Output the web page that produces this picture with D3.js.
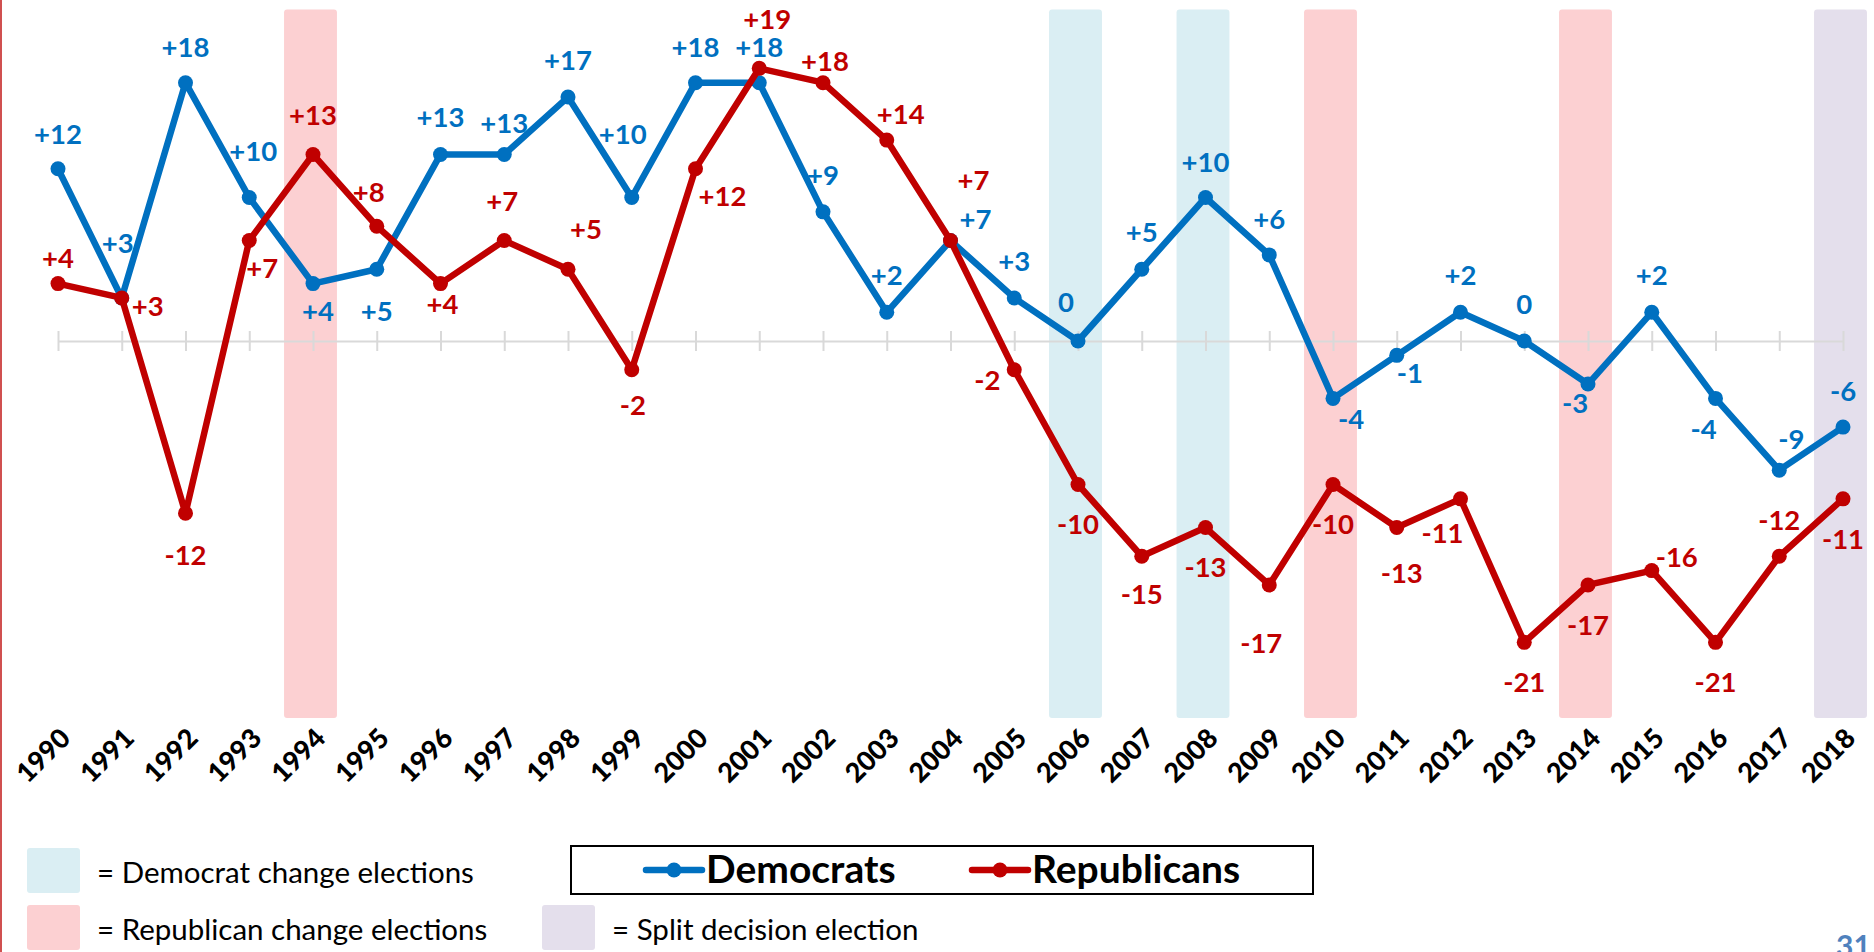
<!DOCTYPE html>
<head>
<meta charset="utf-8">
<script src="https://d3js.org/d3.v7.min.js"></script>
</head>
<style>
  body { margin: 0; background: #fff; overflow: hidden; }
  text { font-family: Lato, "Open Sans", sans-serif; }
</style>
<body>
<svg id="chart" width="1874" height="952"></svg>
<script>
// data
const years = d3.range(1990, 2019);
const democrats   = [12, 3, 18, 10, 4, 5, 13, 13, 17, 10, 18, 18, 9, 2, 7, 3, 0, 5, 10, 6, -4, -1, 2, 0, -3, 2, -4, -9, -6];
const republicans = [4, 3, -12, 7, 13, 8, 4, 7, 5, -2, 12, 19, 18, 14, 7, -2, -10, -15, -13, -17, -10, -13, -11, -21, -17, -16, -21, -15, -11];
// the source chart labels the 2017 Republican point "-12" although it sits at -15
const repLabelOverride = {2017: "-12"};
const demChangeYears = [2006, 2008];
const repChangeYears = [1994, 2010, 2014];
const splitYears = [2018];

// label nudges [dx, dy] from each point (layout only)
const demNudge = [[0,-35],[-4,-55],[0,-36],[4,-46],[5,27],[0,42],[0,-37],[0,-31],[0,-37],[-9,-63],
  [0,-36],[0,-36],[0,-37],[0,-37],[25,-21],[0,-37],[-12,-39],[0,-37],[0,-35],[0,-36],
  [18,21],[13,18],[0,-37],[0,-37],[-13,19],[0,-37],[-12,31],[12,-31],[0,-36]];
const repNudge = [[0,-26],[26,8],[0,42],[13,28],[0,-39],[-8,-34],[2,20],[-2,-39],[18,-40],[1,35],
  [27,27],[8,-49],[2,-22],[14,-26],[23,-60],[-27,10],[0,40],[0,38],[0,40],[-8,58],
  [0,40],[5,46],[-18,34],[0,40],[0,40],[25,-14],[0,40],[0,-36],[0,40]];

const svg = d3.select("#chart");
const blue = "#0070C0", red = "#C00000";

const x = d3.scaleLinear().domain([1990, 2018]).range([58, 1843]);
const y = d3.scaleLinear().domain([-21, 19]).range([341 + 21 * 14.35, 341 - 19 * 14.35]);
const step = x(1991) - x(1990);

// left edge rule
svg.append("line").attr("x1", 1).attr("x2", 1).attr("y1", 0).attr("y2", 952)
  .attr("stroke", "#D05050").attr("stroke-width", 2);

// highlight bands
function bands(list, color) {
  svg.append("g").selectAll("rect").data(list).join("rect")
    .attr("x", d => x(d) - 2.5 - step * 0.415)
    .attr("width", step * 0.83)
    .attr("y", 9.5).attr("height", 708.5)
    .attr("rx", 3)
    .attr("fill", color);
}
bands(demChangeYears, "#DAEEF3");
bands(repChangeYears, "#FCD0D2");
bands(splitYears, "#E4DFEC");

// zero axis with ticks
const axis = svg.append("g").attr("transform", `translate(0,${y(0)})`)
  .call(d3.axisBottom(x).tickValues(years).tickSize(10).tickFormat("").tickSizeOuter(0));
axis.select(".domain").attr("stroke", "#D9D9D9").attr("stroke-width", 2);
axis.selectAll(".tick line").attr("stroke", "#D9D9D9").attr("stroke-width", 2).attr("y1", -10).attr("y2", 10);

// year labels
svg.append("g").selectAll("text").data(years).join("text")
  .attr("transform", d => `translate(${x(d) + 14},${740}) rotate(-45)`)
  .attr("text-anchor", "end")
  .attr("font-weight", 900).attr("font-size", 27).attr("fill", "#000")
  .text(d => d);

// series
function series(vals, color, nudge, fmt) {
  const pts = vals.map((v, i) => ({year: years[i], v: v, n: nudge[i]}));
  const g = svg.append("g");
  g.append("path").datum(pts)
    .attr("d", d3.line().x(d => x(d.year)).y(d => y(d.v)))
    .attr("fill", "none").attr("stroke", color).attr("stroke-width", 6.5)
    .attr("stroke-linejoin", "round");
  g.selectAll("circle").data(pts).join("circle")
    .attr("cx", d => x(d.year)).attr("cy", d => y(d.v)).attr("r", 7.5)
    .attr("fill", color);
  return pts.map(d => ({...d, label: fmt(d), color: color}));
}
const sign = v => v > 0 ? "+" + v : String(v);
const demPts = series(democrats, blue, demNudge, d => sign(d.v));
const repPts = series(republicans, red, repNudge, d => repLabelOverride[d.year] || sign(d.v));

svg.append("g").selectAll("text").data(demPts.concat(repPts)).join("text")
  .attr("x", d => x(d.year) + d.n[0])
  .attr("y", d => y(d.v) + d.n[1])
  .attr("dy", "0.36em")
  .attr("text-anchor", "middle")
  .attr("font-weight", "bold").attr("font-size", 27.5)
  .attr("fill", d => d.color)
  .text(d => d.label);

// band legend
const bandLegend = [
  {c: "#DAEEF3", t: "= Democrat change elections", x: 27, y: 848},
  {c: "#FCD0D2", t: "= Republican change elections", x: 27, y: 905},
  {c: "#E4DFEC", t: "= Split decision election", x: 542, y: 905}
];
const bl = svg.append("g").selectAll("g").data(bandLegend).join("g")
  .attr("transform", d => `translate(${d.x},${d.y})`);
bl.append("rect").attr("width", 53).attr("height", 45).attr("rx", 3).attr("fill", d => d.c);
bl.append("text").attr("x", 70).attr("y", 35).attr("font-size", 29.5).attr("fill", "#000")
  .text(d => d.t);

// series legend
const lg = svg.append("g");
lg.append("rect").attr("x", 571).attr("y", 846).attr("width", 742).attr("height", 48)
  .attr("fill", "#fff").attr("stroke", "#000").attr("stroke-width", 2);
[{c: blue, t: "Democrats", x: 646}, {c: red, t: "Republicans", x: 972}].forEach(d => {
  lg.append("line").attr("x1", d.x).attr("x2", d.x + 56).attr("y1", 870).attr("y2", 870)
    .attr("stroke", d.c).attr("stroke-width", 6.5).attr("stroke-linecap", "round");
  lg.append("circle").attr("cx", d.x + 28).attr("cy", 870).attr("r", 7.5).attr("fill", d.c);
  lg.append("text").attr("x", d.x + 60).attr("y", 883).attr("font-size", 39)
    .attr("font-weight", "bold").attr("fill", "#000").text(d.t);
});

// page number
svg.append("text").attr("x", 1836).attr("y", 957).attr("font-size", 30)
  .attr("font-weight", "bold").attr("fill", "#4F81BD").text("31");
</script>
</body>
